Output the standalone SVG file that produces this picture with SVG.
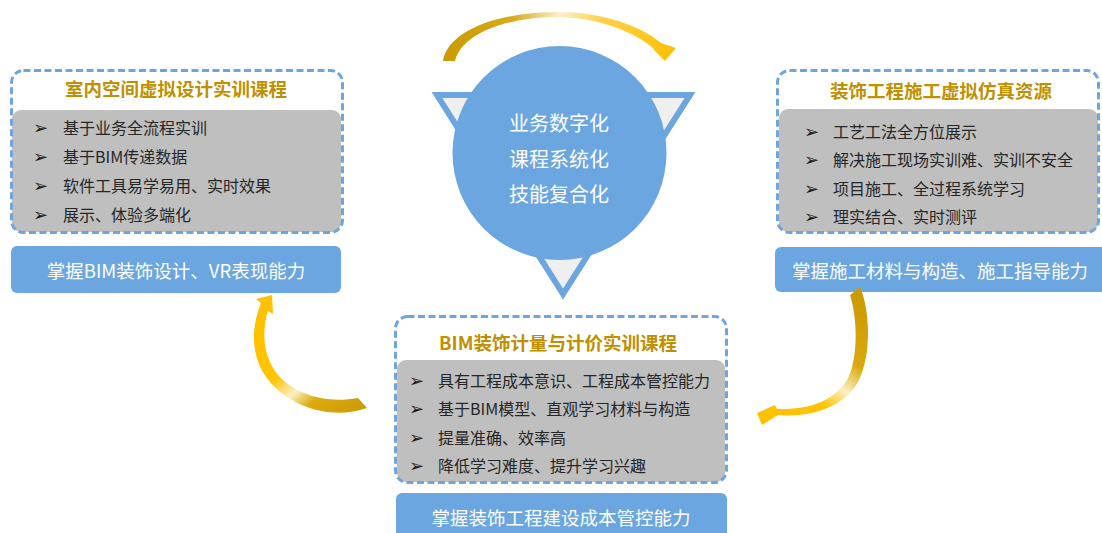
<svg xmlns="http://www.w3.org/2000/svg" width="1102" height="533" viewBox="0 0 1102 533">
<defs>
<style>
.dash{fill:none;stroke:#6fa4de;stroke-width:3;stroke-dasharray:7 3.5}
.gray{fill:#bfbfbf}
.blue{fill:#6ca6e1}
.title{font-family:"Noto Sans CJK SC","Noto Sans",sans-serif;font-weight:bold;font-size:18.5px;fill:#bf9000;text-anchor:middle;dominant-baseline:central}
.item{font-family:"Noto Sans CJK SC","Noto Sans",sans-serif;font-size:16px;fill:#262626;dominant-baseline:central}
.bul{font-family:"DejaVu Sans",sans-serif;font-size:18px;fill:#1a1a1a;dominant-baseline:central}
.btxt{font-family:"Noto Sans CJK SC","Noto Sans",sans-serif;font-size:18.5px;fill:#ffffff;dominant-baseline:central}
.ctxt{font-family:"Noto Sans CJK SC","Noto Sans",sans-serif;font-size:20px;fill:#ffffff;text-anchor:middle;dominant-baseline:central}
</style>
<linearGradient id="gTop" gradientUnits="userSpaceOnUse" x1="443" y1="0" x2="676" y2="0">
<stop offset="0" stop-color="#c99a00"/>
<stop offset="0.3" stop-color="#d8ab1c"/>
<stop offset="0.5" stop-color="#fbf0cc"/>
<stop offset="0.68" stop-color="#ffd24d"/>
<stop offset="1" stop-color="#ffc000"/>
</linearGradient>
<linearGradient id="gLeft" gradientUnits="userSpaceOnUse" x1="262" y1="295" x2="367" y2="412">
<stop offset="0" stop-color="#ffc000"/>
<stop offset="0.45" stop-color="#ffc400"/>
<stop offset="0.6" stop-color="#fcefc4"/>
<stop offset="0.72" stop-color="#dcab10"/>
<stop offset="1" stop-color="#cc9900"/>
</linearGradient>
<linearGradient id="gRight" gradientUnits="userSpaceOnUse" x1="856" y1="288" x2="760" y2="420">
<stop offset="0" stop-color="#cc9900"/>
<stop offset="0.38" stop-color="#d9a90e"/>
<stop offset="0.55" stop-color="#fcefc4"/>
<stop offset="0.7" stop-color="#ffc400"/>
<stop offset="1" stop-color="#ffc000"/>
</linearGradient>
</defs>
<rect width="1102" height="533" fill="#ffffff"/>

<g id="center">
<path d="M437,95 L690,95 L563,294 Z" fill="#efefef" stroke="#6ca6e1" stroke-width="6" stroke-linejoin="miter"/>
<circle cx="559.5" cy="153" r="107" fill="#6ca6e1"/>
<text class="ctxt" x="559" y="122">业务数字化</text>
<text class="ctxt" x="559" y="158">课程系统化</text>
<text class="ctxt" x="559" y="193">技能复合化</text>
</g>

<g id="node-left">
<rect class="gray" x="12" y="110" width="329" height="122" rx="9"/>
<rect class="dash" x="11.5" y="70.5" width="331" height="162" rx="12"/>
<text class="title" x="176" y="88">室内空间虚拟设计实训课程</text>
<text class="bul" x="33" y="127">➢</text><text class="item" x="63" y="127">基于业务全流程实训</text>
<text class="bul" x="33" y="156">➢</text><text class="item" x="63" y="156">基于BIM传递数据</text>
<text class="bul" x="33" y="185">➢</text><text class="item" x="63" y="185">软件工具易学易用、实时效果</text>
<text class="bul" x="33" y="214">➢</text><text class="item" x="63" y="214">展示、体验多端化</text>
</g>
<g id="out-left">
<rect class="blue" x="11" y="246" width="330" height="47" rx="6"/>
<text class="btxt" x="176" y="270" text-anchor="middle">掌握BIM装饰设计、VR表现能力</text>
</g>

<g id="node-right">
<rect class="gray" x="779" y="109" width="319" height="123" rx="9"/>
<rect class="dash" x="777.5" y="70.5" width="321" height="162" rx="12"/>
<text class="title" x="941" y="90">装饰工程施工虚拟仿真资源</text>
<text class="bul" x="804" y="131">➢</text><text class="item" x="833" y="131">工艺工法全方位展示</text>
<text class="bul" x="804" y="159">➢</text><text class="item" x="833" y="159">解决施工现场实训难、实训不安全</text>
<text class="bul" x="804" y="188">➢</text><text class="item" x="833" y="188">项目施工、全过程系统学习</text>
<text class="bul" x="804" y="216">➢</text><text class="item" x="833" y="216">理实结合、实时测评</text>
</g>
<g id="out-right">
<rect class="blue" x="775" y="247" width="340" height="45" rx="6"/>
<text class="btxt" x="792" y="270">掌握施工材料与构造、施工指导能力</text>
</g>

<g id="node-bottom">
<rect class="gray" x="397" y="360" width="328" height="122" rx="9"/>
<rect class="dash" x="395.5" y="316.5" width="331" height="166" rx="12"/>
<text class="title" x="558" y="342">BIM装饰计量与计价实训课程</text>
<text class="bul" x="409" y="380">➢</text><text class="item" x="438" y="380">具有工程成本意识、工程成本管控能力</text>
<text class="bul" x="409" y="408">➢</text><text class="item" x="438" y="408">基于BIM模型、直观学习材料与构造</text>
<text class="bul" x="409" y="437">➢</text><text class="item" x="438" y="437">提量准确、效率高</text>
<text class="bul" x="409" y="465">➢</text><text class="item" x="438" y="465">降低学习难度、提升学习兴趣</text>
</g>
<g id="out-bottom">
<rect class="blue" x="396" y="493" width="331" height="50" rx="6"/>
<text class="btxt" x="561" y="517" text-anchor="middle">掌握装饰工程建设成本管控能力</text>
</g>

<g id="connectors">
<path d="M443,61 C448,30 500,12 557,12 C600,12 640,25 661,43 L676,48 L665,61 L653,49 L654,49 C635,32 600,18 557,17 C510,17 462,32 455,61 Z" fill="url(#gTop)"/>
<path d="M256,299 L272,295 L273,314 L268,311 C262,330 262,355 278,375 C295,394 325,404 358,398 L367,408 C333,420 292,408 270,382 C251,360 250,330 261,303 Z" fill="url(#gLeft)"/>
<path d="M850,295 L860,287 C870,310 872,355 858,382 C845,405 815,418 778,415 L762,425 L757,413 L775,405 L777,409 C810,410 835,400 847,380 C858,360 858,320 850,295 Z" fill="url(#gRight)"/>
</g>
</svg>
